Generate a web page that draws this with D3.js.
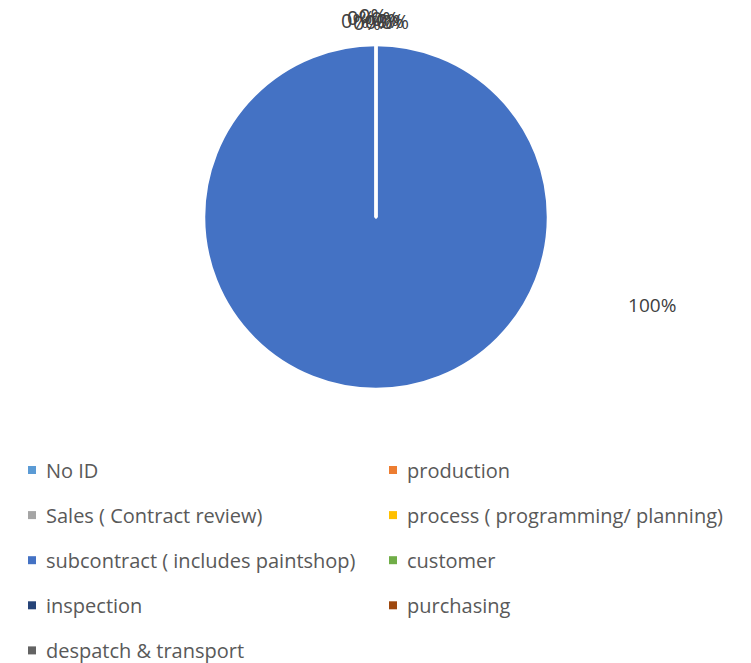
<!DOCTYPE html>
<html>
<head>
<meta charset="utf-8">
<script src="https://cdn.jsdelivr.net/npm/d3@7"></script>
<style>
  body { margin: 0; background: #fff; }
  text { font-family: "Open Sans", "Noto Sans", sans-serif; fill: #404040; }
</style>
</head>
<body>
<svg id="chart"></svg>
<script>
// ----------------------------------------
//  Data
// ----------------------------------------
var categories = [
  "No ID",
  "production",
  "Sales ( Contract review)",
  "process ( programming/ planning)",
  "subcontract ( includes paintshop)",
  "customer",
  "inspection",
  "purchasing",
  "despatch & transport"
];
var values = [0, 0, 0, 0, 100, 0, 0, 0, 0];
var colors = ["#5B9BD5", "#ED7D31", "#A5A5A5", "#FFC000", "#4472C4",
              "#70AD47", "#264478", "#9E480E", "#636363"];

var width = 751, height = 663;
var cx = 376, cy = 217, radius = 172;

var svg = d3.select("#chart")
    .attr("width", width)
    .attr("height", height);

var data = categories.map(function(c, i) {
  return { name: c, value: values[i], color: colors[i] };
});

var total = d3.sum(values);
var pie = d3.pie().sort(null).value(function(d) { return d.value; });
var arcs = pie(data);

var arc = d3.arc().innerRadius(0).outerRadius(radius);

var g = svg.append("g").attr("transform", "translate(" + cx + "," + cy + ")");

// draw the big ones first, zero slices on top so their white edges show
g.selectAll("path.slice")
  .data(arcs.slice().sort(function(a, b) { return b.value - a.value; }))
  .enter().append("path")
  .attr("class", "slice")
  .attr("d", arc)
  .attr("fill", function(d) { return d.data.color; })
  .attr("stroke", "#fff")
  .attr("stroke-width", 2.5)
  .attr("stroke-linejoin", "round");

// ----------------------------------------
//  Data labels
// ----------------------------------------
var fmt = function(v) { return Math.round(v / total * 100) + "%"; };

// the zero labels all pile up at the top, like excel does
var zeroOff = [-21, -15, -9, -3, 3, 9, 14, 19];
var zeroDy = [0, -3, 2, -5, 1, -2, 0, 1];
var zeroIdx = 0;
arcs.forEach(function(d) {
  var x, y;
  if (d.value === 0) {
    x = zeroOff[zeroIdx];
    y = -radius - 25 + zeroDy[zeroIdx];
    zeroIdx++;
  } else {
    // best-fit position to the right of the pie
    var a = 1.88;
    var r = radius + 118;
    x = Math.sin(a) * r;
    y = -Math.cos(a) * r;
  }
  g.append("text")
    .attr("x", x)
    .attr("y", y)
    .attr("text-anchor", "middle")
    .attr("dominant-baseline", "central")
    .style("font-size", d.value === 0 ? "20px" : "19px")
    .text(fmt(d.value));
});

// ----------------------------------------
//  Legend
// ----------------------------------------
var colX = [28, 389];
var rowY = d3.range(5).map(function(i) { return 470 + i * 45.1; });

var leg = svg.selectAll("g.leg")
  .data(data)
  .enter().append("g")
  .attr("class", "leg")
  .attr("transform", function(d, i) {
    return "translate(" + colX[i % 2] + "," + rowY[Math.floor(i / 2)] + ")";
  });

leg.append("rect")
  .attr("x", 0).attr("y", -4)
  .attr("width", 8).attr("height", 8)
  .attr("fill", function(d) { return d.color; });

leg.append("text")
  .attr("x", 18)
  .attr("y", 0)
  .attr("dominant-baseline", "central")
  .style("font-size", "20px")
  .style("fill", "#595959")
  .text(function(d) { return d.name; });
</script>
</body>
</html>
